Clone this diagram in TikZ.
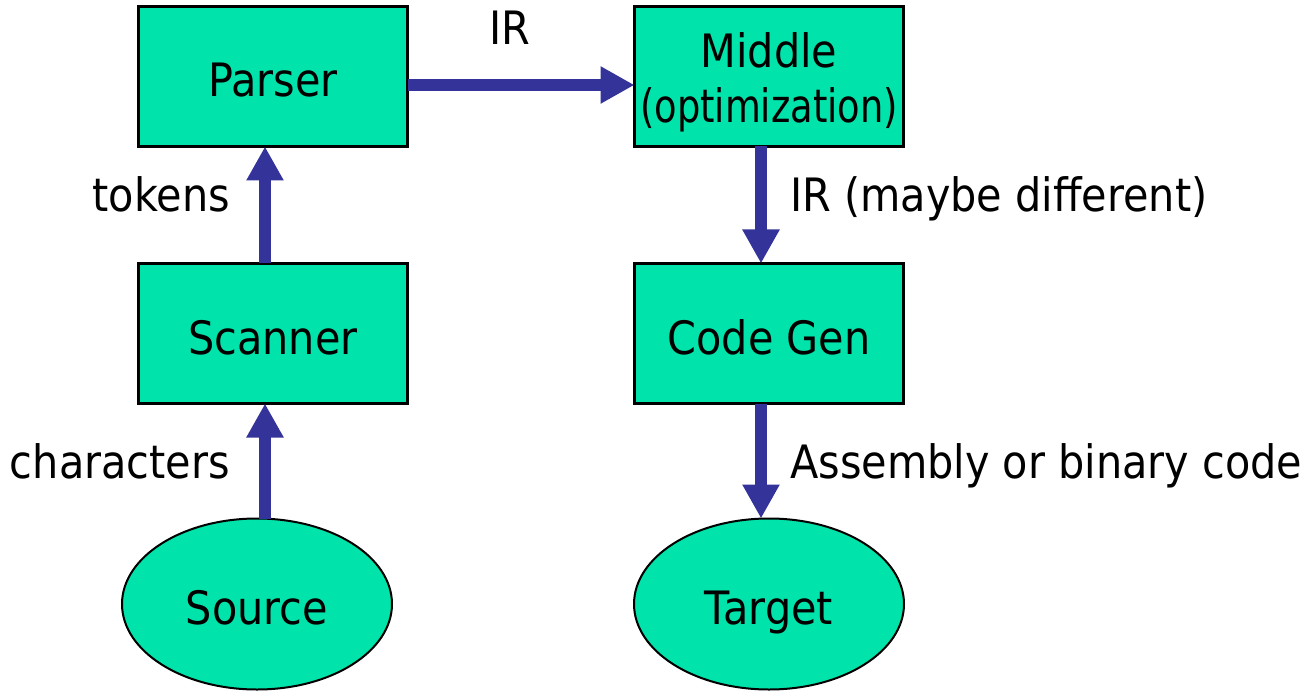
\documentclass[tikz,border=0pt]{standalone}
\usepackage{fontspec}
\setmainfont{DejaVu Sans}[FakeStretch=0.9]
\newfontfamily\narrowface{DejaVu Sans}[FakeStretch=0.8]
\usetikzlibrary{arrows.meta,shapes.geometric}
\definecolor{boxfill}{RGB}{0,227,170}
\definecolor{flow}{RGB}{51,51,153}
\tikzset{
  x=1pt, y=-1pt,
  every node/.style={font=\fontsize{46}{52}\selectfont},
  stage/.style={draw=black, line width=3pt, fill=boxfill, minimum width=269pt,
    minimum height=140pt, inner sep=0pt, outer sep=0pt, align=center,
    text height=41pt, text depth=0pt},
  io/.style={ellipse, draw=black, line width=2pt, fill=boxfill, minimum width=270pt,
    minimum height=171pt, inner sep=0pt, outer sep=0pt,
    text height=41pt, text depth=0pt},
  flowarrow/.style={draw=flow, line width=12pt,
    -{Triangle[width=35pt,length=34pt]}},
  lbl/.style={inner sep=0pt}
}
\begin{document}
\begin{tikzpicture}
\useasboundingbox (0,0) rectangle (1313,692);
\node[stage] (parser) at (273,76.5) {Parser};
\node[stage, text height=93pt, font=\fontsize{46}{55}\selectfont] (middle) at (769,76.5)
  {Middle\\{\narrowface (optimization)}};
\node[stage] (scanner) at (273,333.5) {Scanner};
\node[stage] (codegen) at (769,333.5) {Code Gen};
\node[io] (source) at (257,604) {Source};
\node[io] (target) at (769,604) {Target};

\draw[flowarrow] (source.north -| 265,0) -- (scanner.south -| 265,0);
\draw[flowarrow] (scanner.north -| 265,0) -- (parser.south -| 265,0);
\draw[flowarrow] (parser.east |- 0,85) -- (middle.west |- 0,85);
\draw[flowarrow] (middle.south -| 761,0) -- (codegen.north -| 761,0);
\draw[flowarrow] (codegen.south -| 761,0) -- (target.north -| 761,0);

\node[lbl, anchor=base] (irlbl) at (510,45) {IR};
\node[lbl, anchor=base east] (toklbl) at (230,212) {tokens};
\node[lbl, anchor=base east] (chlbl) at (230,478) {characters};
\node[lbl, anchor=base west] (ir2lbl) at (790,212) {IR (maybe different)};
\node[lbl, anchor=base west] (asmlbl) at (790,478) {Assembly or binary code};
\end{tikzpicture}
\end{document}
